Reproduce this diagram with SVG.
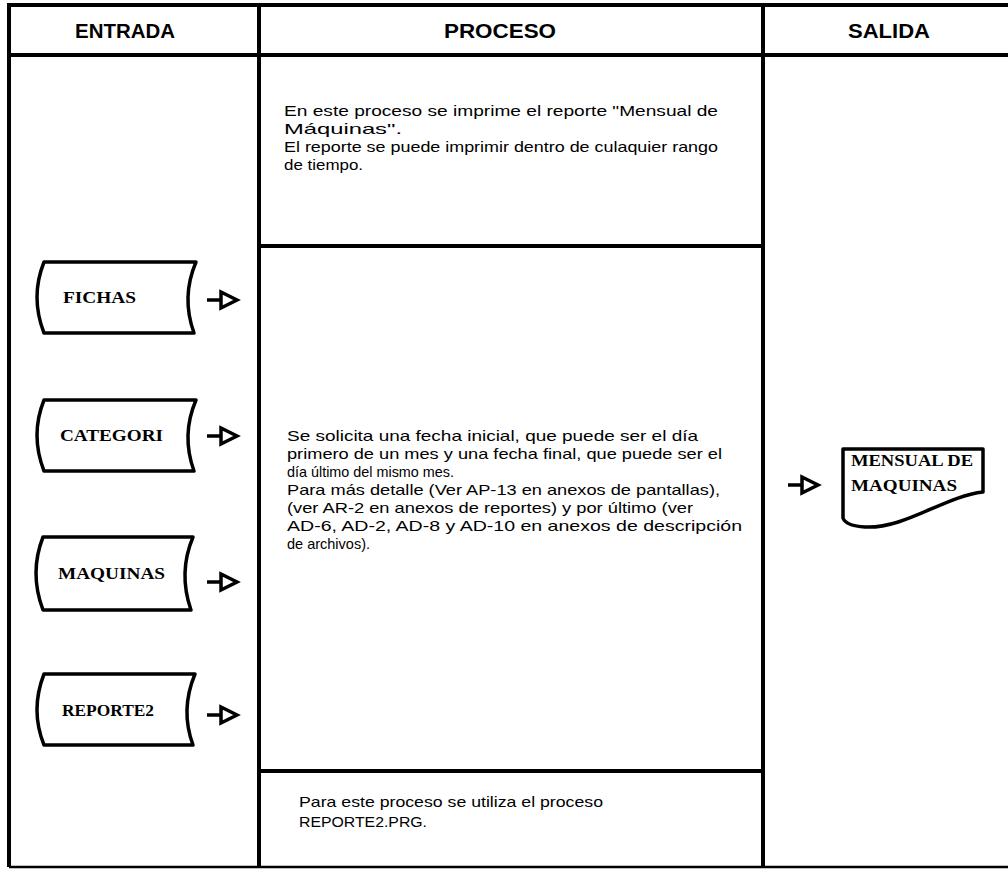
<svg xmlns="http://www.w3.org/2000/svg" width="1008" height="869" viewBox="0 0 1008 869">
<style>
.frame{stroke:#000;stroke-width:4;fill:none}
.thin{stroke:#000;stroke-width:2.5;fill:none}
.head{font-family:"Liberation Sans Narrow","Liberation Sans",sans-serif;font-weight:bold;font-size:21px;fill:#000}
.body{font-family:"Liberation Sans",Arial,sans-serif;font-size:14.5px;fill:#000}
.lbl{font-family:"Liberation Serif","Times New Roman",serif;font-weight:bold;font-size:16px;fill:#000}
.shape{fill:#fff;stroke:#000;stroke-width:3.5;stroke-linejoin:round}
.arrow{fill:none;stroke:#000;stroke-width:3.5;stroke-linejoin:miter}
</style>
<rect width="1008" height="869" fill="#fff"/>
<g id="table">
<line class="frame" x1="7" y1="5" x2="1008" y2="5"/>
<line class="frame" x1="9" y1="5" x2="9" y2="867"/>
<line class="frame" x1="9" y1="55" x2="1008" y2="55"/>
<line class="frame" x1="259" y1="5" x2="259" y2="867"/>
<line class="frame" x1="763" y1="5" x2="763" y2="867"/>
<line class="thin" x1="9" y1="867" x2="1008" y2="867"/>
<line class="frame" x1="259" y1="246" x2="763" y2="246"/>
<line class="frame" x1="259" y1="771" x2="763" y2="771"/>
<text class="head" x="125" y="38" text-anchor="middle" textLength="100" lengthAdjust="spacingAndGlyphs">ENTRADA</text>
<text class="head" x="500" y="38" text-anchor="middle" textLength="112" lengthAdjust="spacingAndGlyphs">PROCESO</text>
<text class="head" x="889" y="38" text-anchor="middle" textLength="82" lengthAdjust="spacingAndGlyphs">SALIDA</text>
</g>
<g id="text-top">
<text class="body" x="284" y="116" textLength="434" lengthAdjust="spacingAndGlyphs">En este proceso se imprime el reporte "Mensual de</text>
<text class="body" x="284" y="134" textLength="118" lengthAdjust="spacingAndGlyphs">Máquinas".</text>
<text class="body" x="284" y="152" textLength="434" lengthAdjust="spacingAndGlyphs">El reporte se puede imprimir dentro de culaquier rango</text>
<text class="body" x="284" y="170" textLength="79" lengthAdjust="spacingAndGlyphs">de tiempo.</text>
</g>
<g id="text-middle">
<text class="body" x="287" y="441" textLength="411" lengthAdjust="spacingAndGlyphs">Se solicita una fecha inicial, que puede ser el día</text>
<text class="body" x="287" y="459" textLength="435" lengthAdjust="spacingAndGlyphs">primero de un mes y una fecha final, que puede ser el</text>
<text class="body" x="287" y="477" textLength="167" lengthAdjust="spacingAndGlyphs">día último del mismo mes.</text>
<text class="body" x="287" y="495" textLength="433" lengthAdjust="spacingAndGlyphs">Para más detalle (Ver AP-13 en anexos de pantallas),</text>
<text class="body" x="287" y="513" textLength="406" lengthAdjust="spacingAndGlyphs">(ver AR-2 en anexos de reportes) y por último (ver</text>
<text class="body" x="287" y="531" textLength="455" lengthAdjust="spacingAndGlyphs">AD-6, AD-2, AD-8 y AD-10 en anexos de descripción</text>
<text class="body" x="287" y="549" textLength="83" lengthAdjust="spacingAndGlyphs">de archivos).</text>
</g>
<g id="text-bottom">
<text class="body" x="299" y="807" textLength="304" lengthAdjust="spacingAndGlyphs">Para este proceso se utiliza el proceso</text>
<text class="body" x="299" y="827" textLength="128" lengthAdjust="spacingAndGlyphs">REPORTE2.PRG.</text>
</g>
<g id="node-fichas">
<path class="shape" d="M44,262 L196,262 Q181,297 194,333 L44,333 Q30,297 44,262 Z"/>
<text class="lbl" x="63" y="303" textLength="73" lengthAdjust="spacingAndGlyphs">FICHAS</text>
</g>
<g id="node-categori">
<path class="shape" d="M44,400 L196,400 Q181,435 194,471 L44,471 Q30,435 44,400 Z"/>
<text class="lbl" x="60" y="441" textLength="103" lengthAdjust="spacingAndGlyphs">CATEGORI</text>
</g>
<g id="node-maquinas">
<path class="shape" d="M43,537 L193,537 Q178,573 191,610 L43,610 Q29,573 43,537 Z"/>
<text class="lbl" x="58" y="579" textLength="107" lengthAdjust="spacingAndGlyphs">MAQUINAS</text>
</g>
<g id="node-reporte2">
<path class="shape" d="M44,674 L195,674 Q180,710 193,745 L44,745 Q30,710 44,674 Z"/>
<text class="lbl" x="62" y="716" textLength="92" lengthAdjust="spacingAndGlyphs">REPORTE2</text>
</g>
<g id="node-mensual">
<path class="shape" d="M843,449 L983,449 L983,492 C945,496 905,529 865,527 Q846,526 843,518 Z"/>
<text class="lbl" x="851" y="466" textLength="122" lengthAdjust="spacingAndGlyphs">MENSUAL DE</text>
<text class="lbl" x="851" y="491" textLength="106" lengthAdjust="spacingAndGlyphs">MAQUINAS</text>
</g>
<g id="connectors">
<path class="arrow" d="M207,300 H221 M221,292 L237,300 L221,308 Z"/>
<path class="arrow" d="M207,436 H221 M221,428 L237,436 L221,444 Z"/>
<path class="arrow" d="M207,582 H221 M221,574 L237,582 L221,590 Z"/>
<path class="arrow" d="M207,715 H221 M221,707 L237,715 L221,723 Z"/>
<path class="arrow" d="M788,485 H802 M802,477 L818,485 L802,493 Z"/>
</g>
</svg>
